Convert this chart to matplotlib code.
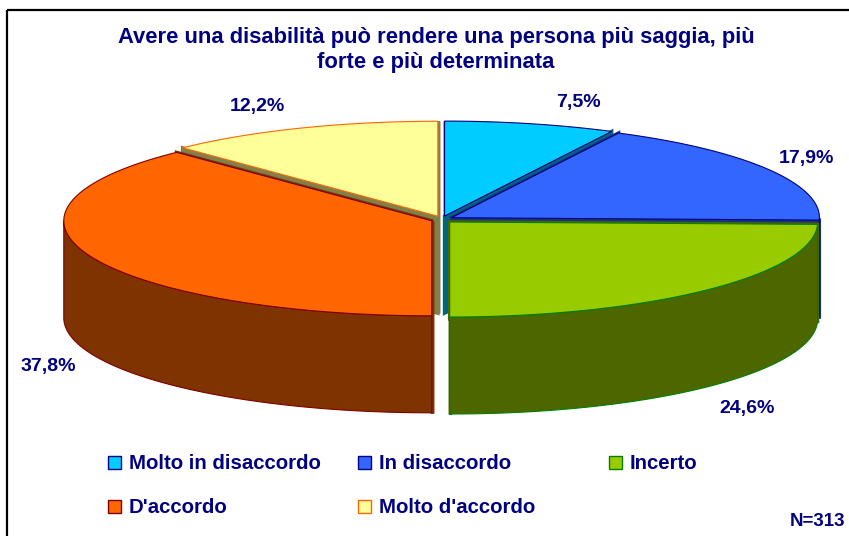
import numpy as np
import matplotlib.pyplot as plt
from matplotlib.patches import Polygon, Rectangle

plt.rcParams['font.family'] = ['Liberation Sans', 'DejaVu Sans']

# dati
titolo = "Avere una disabilità può rendere una persona più saggia, più\nforte e più determinata"
categorie = ['Molto in disaccordo', 'In disaccordo', 'Incerto', "D'accordo", "Molto d'accordo"]
percentuali = [7.5, 17.9, 24.6, 37.8, 12.2]
nota = 'N=313'

# stile
colori = ['#00CCFF', '#3366FF', '#99CC00', '#FF6600', '#FFFF99']
colori_lato = ['#006680', '#1A3380', '#4C6600', '#7F3300', '#80804C']
bordi = ['#000080', '#000080', '#008000', '#800000', '#FF6600']
blu = '#000080'
pos_etichette = [(578, 103), (806, 158), (747, 408), (48, 366), (257, 107)]

# geometria della torta (pixel)
cx, cy = 442, 219.5
a, b = 368, 95
h = 97
ex, ey = 11, 3.5

fig = plt.figure(figsize=(8.49, 5.36), dpi=100)
ax = fig.add_axes([0, 0, 1, 1])
ax.set_xlim(0, 849)
ax.set_ylim(536, 0)
ax.axis('off')

# cornice
ax.add_patch(Rectangle((7, 10), 1000, 1000, fill=False, edgecolor='black', lw=1.6))


def punto(ox, oy, t, dz=0):
    return ox + a*np.cos(np.radians(t)), oy - b*np.sin(np.radians(t)) + dz


tot = sum(percentuali)
angoli = 90 - 360*np.cumsum([0] + percentuali)/tot
fette = []
for i in range(len(percentuali)):
    t1, t2 = angoli[i+1], angoli[i]
    mid = np.radians((t1 + t2)/2)
    ox = cx + ex*np.cos(mid)
    oy = cy - ey*np.sin(mid)
    fette.append((np.sin(mid), i, t1, t2, ox, oy))

fette.sort(key=lambda f: -f[0])

for s, i, t1, t2, ox, oy in fette:
    # facce radiali
    for t in (t1, t2):
        xr, yr = punto(ox, oy, t)
        quad = [(ox, oy), (xr, yr), (xr, yr + h), (ox, oy + h)]
        ax.add_patch(Polygon(quad, closed=True, facecolor=colori_lato[i],
                             edgecolor=colori_lato[i], lw=2.5, joinstyle='miter'))
    # parete esterna (solo davanti)
    f1, f2 = max(t1, -180), min(t2, 0)
    if f2 > f1:
        tt = np.linspace(f1, f2, 200)
        sopra = [punto(ox, oy, t) for t in tt]
        sotto = [punto(ox, oy, t, h) for t in tt[::-1]]
        ax.add_patch(Polygon(sopra + sotto, closed=True, facecolor=colori_lato[i],
                             edgecolor=bordi[i], lw=0.8))
    # faccia superiore
    tt = np.linspace(t1, t2, 200)
    pts = [(ox, oy)] + [punto(ox, oy, t) for t in tt]
    ax.add_patch(Polygon(pts, closed=True, facecolor=colori[i],
                         edgecolor=bordi[i], lw=0.8))

# etichette percentuali
for i, v in enumerate(percentuali):
    x, y = pos_etichette[i]
    ax.text(x, y, f'{v:.1f}%'.replace('.', ','), ha='center', va='center',
            fontsize=14, fontweight='bold', color=blu)

# titolo
ax.text(436, 50, titolo, ha='center', va='center', fontsize=15.8,
        fontweight='bold', color=blu, linespacing=1.25)

# legenda
col_x = [108, 358, 609]
riga_y = [462, 506]
for i, nome in enumerate(categorie):
    x = col_x[i % 3]
    y = riga_y[i // 3]
    ax.add_patch(Rectangle((x, y - 6.5), 13, 13, facecolor=colori[i],
                           edgecolor=bordi[i], lw=1))
    ax.text(x + 21, y + 1.5, nome, ha='left', va='center', fontsize=14.7,
            fontweight='bold', color=blu)

ax.text(845, 522, nota, ha='right', va='center', fontsize=13.5,
        fontweight='bold', color=blu)

fig.savefig('out.png', dpi=100)
